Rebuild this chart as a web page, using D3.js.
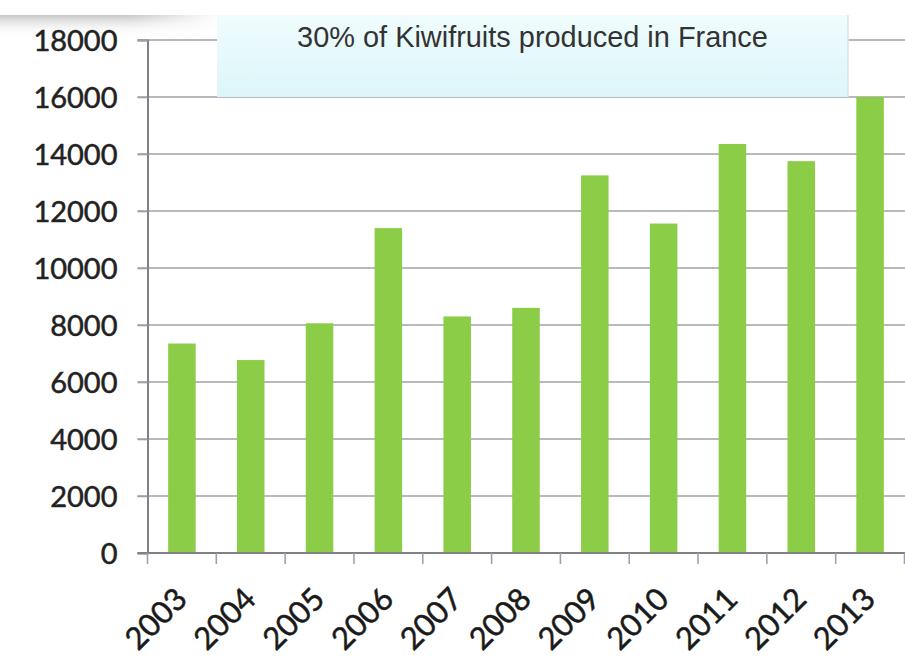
<!DOCTYPE html>
<html><head><meta charset="utf-8">
<script src="https://cdn.jsdelivr.net/npm/d3@7"></script>
<style>body{margin:0;background:#fff}svg{display:block}</style>
</head><body>
<svg id="c" width="905" height="657"></svg>
<script>
const years = ["2003","2004","2005","2006","2007","2008","2009","2010","2011","2012","2013"];
const values = [7350, 6770, 8060, 11400, 8300, 8600, 13250, 11560, 14350, 13750, 16000];
const yTicks = [0,2000,4000,6000,8000,10000,12000,14000,16000,18000];
const title = "30% of Kiwifruits produced in France";

const svg = d3.select("#c");
const m = {l:147.5, r:904.5, t:40, b:553};
const x = d3.scaleBand().domain(years).range([m.l, m.r]).paddingInner(0.6).paddingOuter(0.3);
const xb = d3.scaleBand().domain(years).range([m.l, m.r]);
const y = d3.scaleLinear().domain([0,18000]).range([m.b, m.t]);

const defs = svg.append("defs");
const g1 = defs.append("linearGradient").attr("id","shade").attr("x1",0).attr("y1",0).attr("x2",0).attr("y2",1);
g1.append("stop").attr("offset","0%").attr("stop-color","#c8c8c8");
g1.append("stop").attr("offset","100%").attr("stop-color","#ffffff").attr("stop-opacity",0);
const g2 = defs.append("linearGradient").attr("id","box").attr("x1",0).attr("y1",0).attr("x2",0).attr("y2",1);
g2.append("stop").attr("offset","0%").attr("stop-color","#f0fcfd");
g2.append("stop").attr("offset","100%").attr("stop-color","#dcf6fa");
const mask = defs.append("linearGradient").attr("id","hfade").attr("x1",0).attr("y1",0).attr("x2",1).attr("y2",0);
mask.append("stop").attr("offset","0%").attr("stop-color","#fff");
mask.append("stop").attr("offset","60%").attr("stop-color","#fff");
mask.append("stop").attr("offset","100%").attr("stop-color","#000");
defs.append("mask").attr("id","hm").append("rect").attr("x",0).attr("y",0).attr("width",220).attr("height",60).attr("fill","url(#hfade)");

svg.append("rect").attr("x",0).attr("y",15).attr("width",220).attr("height",22).attr("fill","url(#shade)").attr("mask","url(#hm)");

// gridlines
svg.append("g").selectAll("line").data(yTicks.filter(d=>d>0)).join("line")
  .attr("x1", m.l-10).attr("x2", 905).attr("y1", d=>y(d)).attr("y2", d=>y(d))
  .attr("stroke","#a0a0a8").attr("stroke-width",1.6);

// title box
svg.append("rect").attr("x",217).attr("y",15).attr("width",631).attr("height", y(16000)-15)
  .attr("fill","url(#box)");
svg.append("line").attr("x1",848).attr("x2",848).attr("y1",15).attr("y2",y(16000)).attr("stroke","#d6e4e6").attr("stroke-width",1.5);
const tt = svg.append("text").attr("x",532.5).attr("y",47).attr("text-anchor","middle")
  .attr("font-family","Liberation Sans, Arial, sans-serif").attr("font-size",24).attr("fill","#333").text(title);
const tw = tt.node().getComputedTextLength();
tt.attr("font-size", 24*471/tw);

// bars
svg.append("g").selectAll("rect").data(years).join("rect")
  .attr("x", d=>x(d)).attr("width", x.bandwidth())
  .attr("y", (d,i)=>y(values[i])).attr("height", (d,i)=>y(0)-y(values[i]))
  .attr("fill","#8bcd47");

// y axis
const ya = svg.append("g").attr("transform",`translate(${m.l},0)`)
  .call(d3.axisLeft(y).tickValues(yTicks).tickSize(10).tickPadding(20).tickFormat(d3.format("d")));
ya.select(".domain").attr("stroke","#808088").attr("stroke-width",2);
ya.selectAll(".tick line").attr("stroke","#a0a0a8").attr("stroke-width",1.6);
ya.selectAll("text").attr("font-family","Lato, sans-serif").attr("font-size",29).attr("fill","#222")
  .attr("stroke","#222").attr("stroke-width",0.5).attr("dy","0.35em");

// x axis
svg.append("line").attr("x1",m.l-10).attr("x2",905).attr("y1",m.b).attr("y2",m.b).attr("stroke","#808088").attr("stroke-width",2);
const bounds = years.map(d=>xb(d)).concat([m.r]);
svg.append("g").selectAll("line").data(bounds).join("line")
  .attr("x1",d=>d).attr("x2",d=>d).attr("y1",m.b).attr("y2",m.b+11)
  .attr("stroke","#a0a0a8").attr("stroke-width",1.6);
svg.append("g").selectAll("text").data(years).join("text")
  .attr("transform", d=>`translate(${xb(d)+xb.bandwidth()/2+7},${m.b+48}) rotate(-45)`)
  .attr("text-anchor","end")
  .attr("font-family","Lato, sans-serif").attr("font-size",31).attr("fill","#1a1a1a")
  .attr("stroke","#1a1a1a").attr("stroke-width",0.5)
  .text(d=>d);
</script>
</body></html>
